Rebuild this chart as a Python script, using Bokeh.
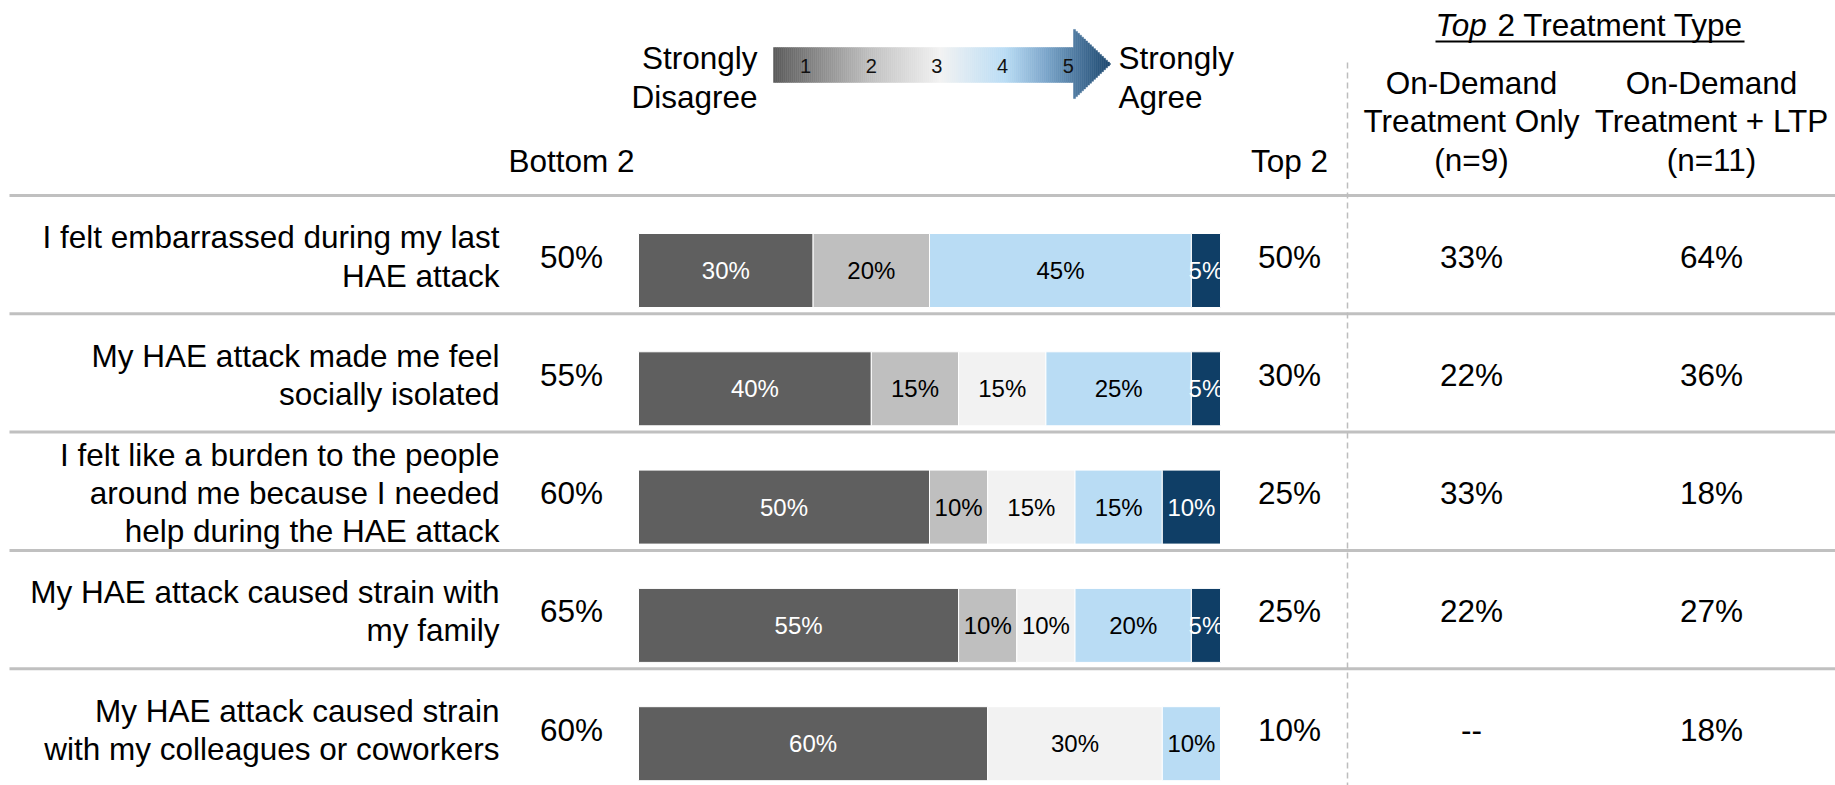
from bokeh.plotting import figure
from bokeh.models import Range1d
from bokeh.core.properties import value
from bokeh.embed import file_html
from bokeh.resources import INLINE

# ---------------- data ----------------
statements = [
    "I felt embarrassed during my last\nHAE attack",
    "My HAE attack made me feel\nsocially isolated",
    "I felt like a burden to the people\naround me because I needed\nhelp during the HAE attack",
    "My HAE attack caused strain with\nmy family",
    "My HAE attack caused strain\nwith my colleagues or coworkers",
]
score1 = [30, 40, 50, 55, 60]   # Strongly disagree
score2 = [20, 15, 10, 10, 0]
score3 = [0, 15, 15, 10, 30]
score4 = [45, 25, 15, 20, 10]
score5 = [5, 5, 10, 5, 0]       # Strongly agree
bottom2 = [50, 55, 60, 65, 60]
top2 = [50, 30, 25, 25, 10]
on_demand_only = ["33%", "22%", "33%", "22%", "--"]
on_demand_ltp = ["64%", "36%", "18%", "27%", "18%"]
scale_labels = ["1", "2", "3", "4", "5"]
col_headers = ["On-Demand\nTreatment Only\n(n=9)", "On-Demand\nTreatment + LTP\n(n=11)"]

seg_colors = ["#5f5f5f", "#bfbfbf", "#f2f2f2", "#b9dcf4", "#0f3e66"]
seg_text_colors = ["white", "black", "black", "black", "white"]

FONT = value("Liberation Sans")
BIG = value("31.5px")
LH = 1.06
W, H = 1835, 785

# ---------------- coordinate frame ----------------
X0, PXPCT = 638.0, 5.82        # pixel of 0 %, pixels per percent
Y0, PITCH = 270.0, 118.3       # pixel of first bar centre, row pitch


def dx(px):
    return (px - X0) / PXPCT


def dy(px):
    return (px - Y0) / PITCH


p = figure(width=W, height=H,
           x_range=Range1d(dx(0), dx(W)),
           y_range=Range1d(dy(H), dy(0)),
           output_backend="svg", toolbar_location=None,
           x_axis_location=None, y_axis_location=None, min_border=0)
p.grid.visible = False
p.outline_line_color = None
p.background_fill_color = "white"
p.border_fill_color = "white"

n = len(statements)
rows = list(range(n))
series = [score1, score2, score3, score4, score5]
TXT_OFF = -14 / PITCH

# ---------------- grid lines ----------------
grid_y = [r - 75 / PITCH for r in rows]
p.segment(x0=[dx(9)] * n, x1=[dx(W)] * n, y0=grid_y, y1=grid_y,
          line_color="#c0c0c0", line_width=3)
p.segment(x0=[dx(1347)], x1=[dx(1347)], y0=[dy(62)], y1=[dy(H)],
          line_color="#bdbdbd", line_width=1.5, line_dash="6 4")

# ---------------- stacked bars ----------------
cum = [0] * n
for k, s in enumerate(series):
    lefts, rights, ys, mids, labs = [], [], [], [], []
    for i in rows:
        if s[i] > 0:
            lefts.append(cum[i])
            rights.append(cum[i] + s[i])
            ys.append(i)
            mids.append(cum[i] + s[i] / 2)
            labs.append(f"{s[i]}%")
        cum[i] += s[i]
    p.hbar(y=ys, left=lefts, right=rights, height=74 / PITCH,
           fill_color=seg_colors[k], line_color="white", line_width=1)
    p.text(x=mids, y=ys, text=labs, text_font=FONT,
           text_font_size=value("24px"), text_color=seg_text_colors[k],
           text_align="center", text_baseline="middle")

# ---------------- row texts ----------------
ty = [r + TXT_OFF for r in rows]
p.text(x=[dx(499)] * n, y=ty, text=statements, text_font=FONT,
       text_font_size=BIG, text_color="black",
       text_align="right", text_baseline="middle", text_line_height=LH)
p.text(x=[dx(571)] * n, y=ty, text=[f"{v}%" for v in bottom2], text_font=FONT,
       text_font_size=BIG, text_color="black",
       text_align="center", text_baseline="middle")
p.text(x=[dx(1289)] * n, y=ty, text=[f"{v}%" for v in top2], text_font=FONT,
       text_font_size=BIG, text_color="black",
       text_align="center", text_baseline="middle")
p.text(x=[dx(1471)] * n, y=ty, text=on_demand_only, text_font=FONT,
       text_font_size=BIG, text_color="black",
       text_align="center", text_baseline="middle")
p.text(x=[dx(1711)] * n, y=ty, text=on_demand_ltp, text_font=FONT,
       text_font_size=BIG, text_color="black",
       text_align="center", text_baseline="middle")

# ---------------- headers ----------------
p.text(x=[dx(571), dx(1289)], y=[dy(160), dy(160)], text=["Bottom 2", "Top 2"],
       text_font=FONT, text_font_size=BIG, text_color="black",
       text_align="center", text_baseline="middle")
p.text(x=[dx(1471), dx(1711)], y=[dy(121), dy(121)], text=col_headers,
       text_font=FONT, text_font_size=BIG, text_color="black",
       text_align="center", text_baseline="middle", text_line_height=LH)
p.text(x=[dx(757)], y=[dy(77)], text=["Strongly\nDisagree"], text_font=FONT,
       text_font_size=BIG, text_color="black",
       text_align="right", text_baseline="middle", text_line_height=1.09)
p.text(x=[dx(1118)], y=[dy(77)], text=["Strongly\nAgree"], text_font=FONT,
       text_font_size=BIG, text_color="black",
       text_align="left", text_baseline="middle", text_line_height=1.09)

# title "Top 2 Treatment Type" (italic "Top") with underline
p.text(x=[dx(1435)], y=[dy(24)], text=["Top"], text_font=FONT,
       text_font_size=BIG, text_font_style="italic", text_color="black",
       text_align="left", text_baseline="middle")
p.text(x=[dx(1497)], y=[dy(24)], text=["2 Treatment Type"], text_font=FONT,
       text_font_size=BIG, text_color="black",
       text_align="left", text_baseline="middle")
p.segment(x0=[dx(1435)], x1=[dx(1744)], y0=[dy(41)], y1=[dy(41)],
          line_color="black", line_width=2)

# ---------------- gradient arrow ----------------
stops = [(773, (0x5a, 0x5a, 0x5a)), (870, (0xc0, 0xc0, 0xc0)), (940, (0xf2, 0xf2, 0xf2)),
         (1005, (0xb9, 0xdc, 0xf4)), (1045, (0x7c, 0xa6, 0xcb)), (1110, (0x1a, 0x46, 0x6e))]


def grad(xp):
    for (a, ca), (b, cb) in zip(stops[:-1], stops[1:]):
        if a <= xp <= b:
            t = (xp - a) / (b - a)
            c = [round(ca[j] + (cb[j] - ca[j]) * t) for j in range(3)]
            return "#%02x%02x%02x" % tuple(c)
    return "#%02x%02x%02x" % stops[-1][1]


gl, gr, gt, gb, gc = [], [], [], [], []
xp = 773
while xp < 1110:
    xe = min(xp + 2, 1110)
    if xp < 1073:
        top_px, bot_px = 47, 82
    else:
        half = 35.5 * (1110 - (xp + xe) / 2) / 37
        top_px, bot_px = 63.5 - half, 63.5 + half
    gl.append(dx(xp)); gr.append(dx(xe))
    gt.append(dy(top_px)); gb.append(dy(bot_px))
    gc.append(grad((xp + xe) / 2))
    xp = xe
p.quad(left=gl, right=gr, top=gt, bottom=gb, fill_color=gc, line_color=gc, line_width=0.5)

p.text(x=[dx(805 + 65.7 * i) for i in range(5)], y=[dy(65)] * 5, text=scale_labels,
       text_font=FONT, text_font_size=value("20px"), text_color="#111111",
       text_align="center", text_baseline="middle")

open("out.html", "w").write(file_html(p, INLINE))
